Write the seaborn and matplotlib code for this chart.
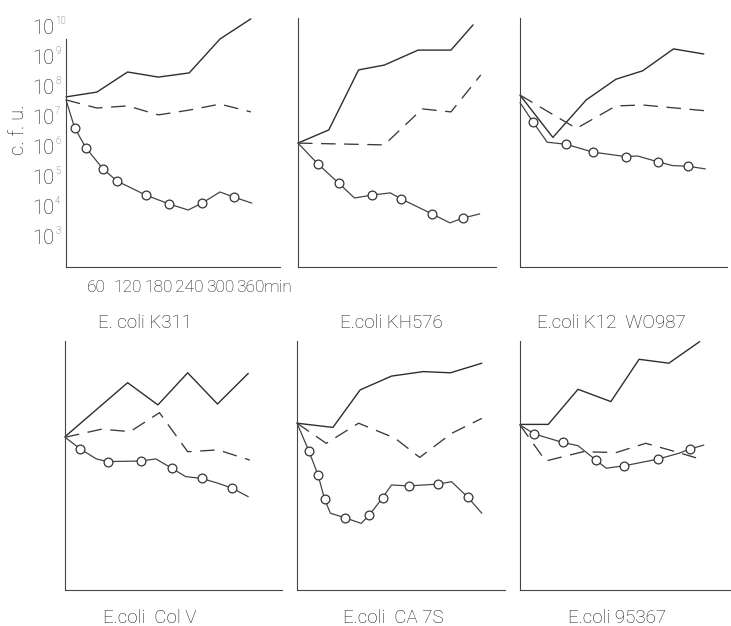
import numpy as np
import pandas as pd
import matplotlib
matplotlib.use("Agg")
import matplotlib.pyplot as plt
import seaborn as sns

# ---- data: log10 of colony forming units against time (min) ----
strains = ["E. coli K311", "E.coli KH576", "E.coli K12  WO987",
           "E.coli  Col V", "E.coli  CA 7S", "E.coli 95367"]

# solid curve
solid_t = [
    [0, 60, 120, 180, 240, 300, 360],
    [0, 60, 118, 168, 234, 298, 341],
    [0, 64, 129, 187, 239, 299, 358],
    [0, 122, 181, 239, 297, 357],
    [0, 70, 123, 184, 246, 299, 360],
    [0, 55, 113, 177, 232, 290, 350],
]
solid_v = [
    [7.67, 7.83, 8.50, 8.33, 8.47, 9.60, 10.27],
    [6.13, 6.57, 8.57, 8.73, 9.23, 9.23, 10.07],
    [7.73, 6.32, 7.57, 8.26, 8.54, 9.27, 9.10],
    [7.11, 8.91, 8.17, 9.24, 8.20, 9.22],
    [7.56, 7.42, 8.67, 9.13, 9.28, 9.24, 9.56],
    [7.52, 7.52, 8.69, 8.28, 9.69, 9.56, 10.28],
]

# dashed curve
dashed_t = [
    [0, 60, 120, 180, 240, 300, 360],
    [0, 168, 242, 298, 356],
    [0, 110, 187, 239, 360],
    [0, 71, 127, 184, 239, 298, 360],
    [0, 57, 120, 191, 239, 301, 360],
    [0, 50, 123, 187, 245, 303, 358],
]
dashed_v = [
    [7.57, 7.30, 7.37, 7.07, 7.23, 7.43, 7.17],
    [6.13, 6.07, 7.27, 7.17, 8.40],
    [7.73, 6.62, 7.37, 7.40, 7.21],
    [7.09, 7.36, 7.28, 7.91, 6.61, 6.67, 6.33],
    [7.56, 6.89, 7.56, 7.06, 6.42, 7.22, 7.72],
    [7.50, 6.30, 6.61, 6.58, 6.89, 6.61, 6.33],
]

# curve with open circles (1 = circle drawn at that point)
circ_t = [
    [0, 17, 39, 72, 99, 155, 201, 238, 265, 300, 327, 362],
    [0, 39, 79, 110, 145, 180, 201, 261, 296, 321, 354],
    [0, 25, 53, 90, 142, 206, 229, 268, 297, 327, 361],
    [0, 30, 61, 83, 148, 177, 208, 235, 266, 298, 326, 357],
    [0, 23, 41, 54, 65, 93, 125, 141, 167, 184, 218, 275, 301, 333, 360],
    [0, 28, 83, 113, 148, 168, 203, 268, 310, 331, 358],
]
circ_v = [
    [7.57, 6.63, 5.97, 5.27, 4.87, 4.40, 4.10, 3.90, 4.13, 4.50, 4.33, 4.13],
    [6.13, 5.43, 4.80, 4.30, 4.40, 4.47, 4.27, 3.77, 3.47, 3.63, 3.77],
    [7.48, 6.84, 6.16, 6.09, 5.83, 5.68, 5.70, 5.51, 5.38, 5.36, 5.27],
    [7.09, 6.70, 6.37, 6.28, 6.30, 6.37, 6.06, 5.78, 5.72, 5.56, 5.39, 5.11],
    [7.56, 6.64, 5.83, 5.02, 4.56, 4.41, 4.22, 4.50, 5.08, 5.50, 5.47, 5.53, 5.61, 5.09, 4.56],
    [7.50, 7.20, 6.92, 6.81, 6.33, 6.06, 6.14, 6.36, 6.56, 6.70, 6.83],
]
circ_mark = [
    [0, 1, 1, 1, 1, 1, 1, 0, 1, 0, 1, 0],
    [0, 1, 1, 0, 1, 0, 1, 1, 0, 1, 0],
    [0, 1, 0, 1, 1, 1, 0, 1, 0, 1, 0],
    [0, 1, 0, 1, 1, 0, 1, 0, 1, 0, 1, 0],
    [0, 1, 1, 1, 0, 1, 0, 1, 1, 0, 1, 1, 0, 1, 0],
    [0, 1, 1, 0, 1, 0, 1, 1, 0, 1, 0],
]

time_ticks = [60, 120, 180, 240, 300, 360]
decades = [3, 4, 5, 6, 7, 8, 9, 10]


def frame(times, values, marks=None):
    d = pd.DataFrame({"min": times, "cfu": np.power(10.0, values)})
    d["mark"] = marks if marks is not None else 0
    return d


# ---- figure ----
sns.set_theme(style="white")
plt.rcParams["font.family"] = ["Roboto", "DejaVu Sans"]
plt.rcParams["font.weight"] = "light"

W, H = 731, 626
PT = 0.72  # points per pixel at 100 dpi
fig = plt.figure(figsize=(W / 100, H / 100), dpi=100)
fig.patch.set_facecolor("white")

ink = "#2e2e2e"
txt = "#1a1a1a"
px_per_min = 30.8 / 60
y_lo, y_hi = 2.0, 10.3
px_per_dec = 30.0

# left edge, width and bottom of every panel in pixels
lefts = [66, 298, 520, 65, 297, 520]
widths = [214, 198, 207, 217, 208, 211]
bottoms = [267, 267, 267, 590, 590, 590]
title_x = [145, 391, 611, 150, 393, 617]
title_y = [323, 323, 323, 618, 618, 618]

for i, name in enumerate(strains):
    h = (y_hi - y_lo) * px_per_dec
    ax = fig.add_axes([lefts[i] / W, 1 - bottoms[i] / H, widths[i] / W, h / H])
    ax.set_facecolor("none")

    s = frame(solid_t[i], solid_v[i])
    d = frame(dashed_t[i], dashed_v[i])
    c = frame(circ_t[i], circ_v[i], circ_mark[i])

    sns.lineplot(data=s, x="min", y="cfu", ax=ax, color=ink, lw=1.0,
                 estimator=None, sort=False, clip_on=False)
    sns.lineplot(data=d, x="min", y="cfu", ax=ax, color="#3a3a3a", lw=0.95,
                 linestyle=(0, (11, 6.5)), estimator=None, sort=False, clip_on=False)
    sns.lineplot(data=c, x="min", y="cfu", ax=ax, color="#444444", lw=0.9,
                 estimator=None, sort=False, clip_on=False)
    sns.scatterplot(data=c[c["mark"] == 1], x="min", y="cfu", ax=ax,
                    marker="o", s=40, facecolor="white", edgecolor="#333333",
                    linewidth=0.9, zorder=5, clip_on=False)

    ax.set_yscale("log")
    ax.set_ylim(10 ** y_lo, 10 ** y_hi)
    ax.set_xlim(0, widths[i] / px_per_min)
    ax.minorticks_off()
    ax.set_yticks([10.0 ** k for k in decades])
    ax.set_xticks(time_ticks)
    ax.tick_params(axis="both", which="major", direction="inout", length=3,
                   width=0.6, color="#555555")
    ax.tick_params(axis="y", pad=10 * PT)
    ax.tick_params(axis="x", pad=11 * PT)
    if i == 0:
        ax.set_yticklabels(["10"] * len(decades), fontsize=14.5, color=txt,
                           fontweight="light")
        for k in decades:
            ax.annotate(str(k), xy=(0, 10.0 ** k), xycoords=ax.get_yaxis_transform(),
                        xytext=(-11 * PT, 6 * PT), textcoords="offset points",
                        ha="left", va="center", fontsize=7, color="#555555",
                        fontweight="light")
        ax.set_xticklabels([str(t) for t in time_ticks], fontsize=12.5, color=txt,
                           fontweight="light")
        ax.annotate("min", xy=(360, 0), xycoords=ax.get_xaxis_transform(),
                    xytext=(13 * PT, -21 * PT), textcoords="offset points",
                    ha="left", va="center", fontsize=12.5, color=txt,
                    fontweight="light")
        ax.spines["left"].set_bounds(10 ** y_lo, 10 ** 9.6)
    else:
        ax.set_yticklabels([])
        ax.set_xticklabels([])
    ax.set_xlabel("")
    ax.set_ylabel("")

    for side in ("top", "right"):
        ax.spines[side].set_visible(False)
    for side in ("left", "bottom"):
        ax.spines[side].set_linewidth(0.8)
        ax.spines[side].set_color("#444444")

    fig.text(title_x[i] / W, 1 - title_y[i] / H, name, ha="center", va="center",
             fontsize=13.5, color=txt, fontweight="light")

fig.text(19 / W, 1 - 130 / H, "c. f. u.", rotation=90, ha="center", va="center",
         fontsize=14.5, color=txt, fontweight="light")

fig.savefig("out.png", dpi=100, facecolor="white")
